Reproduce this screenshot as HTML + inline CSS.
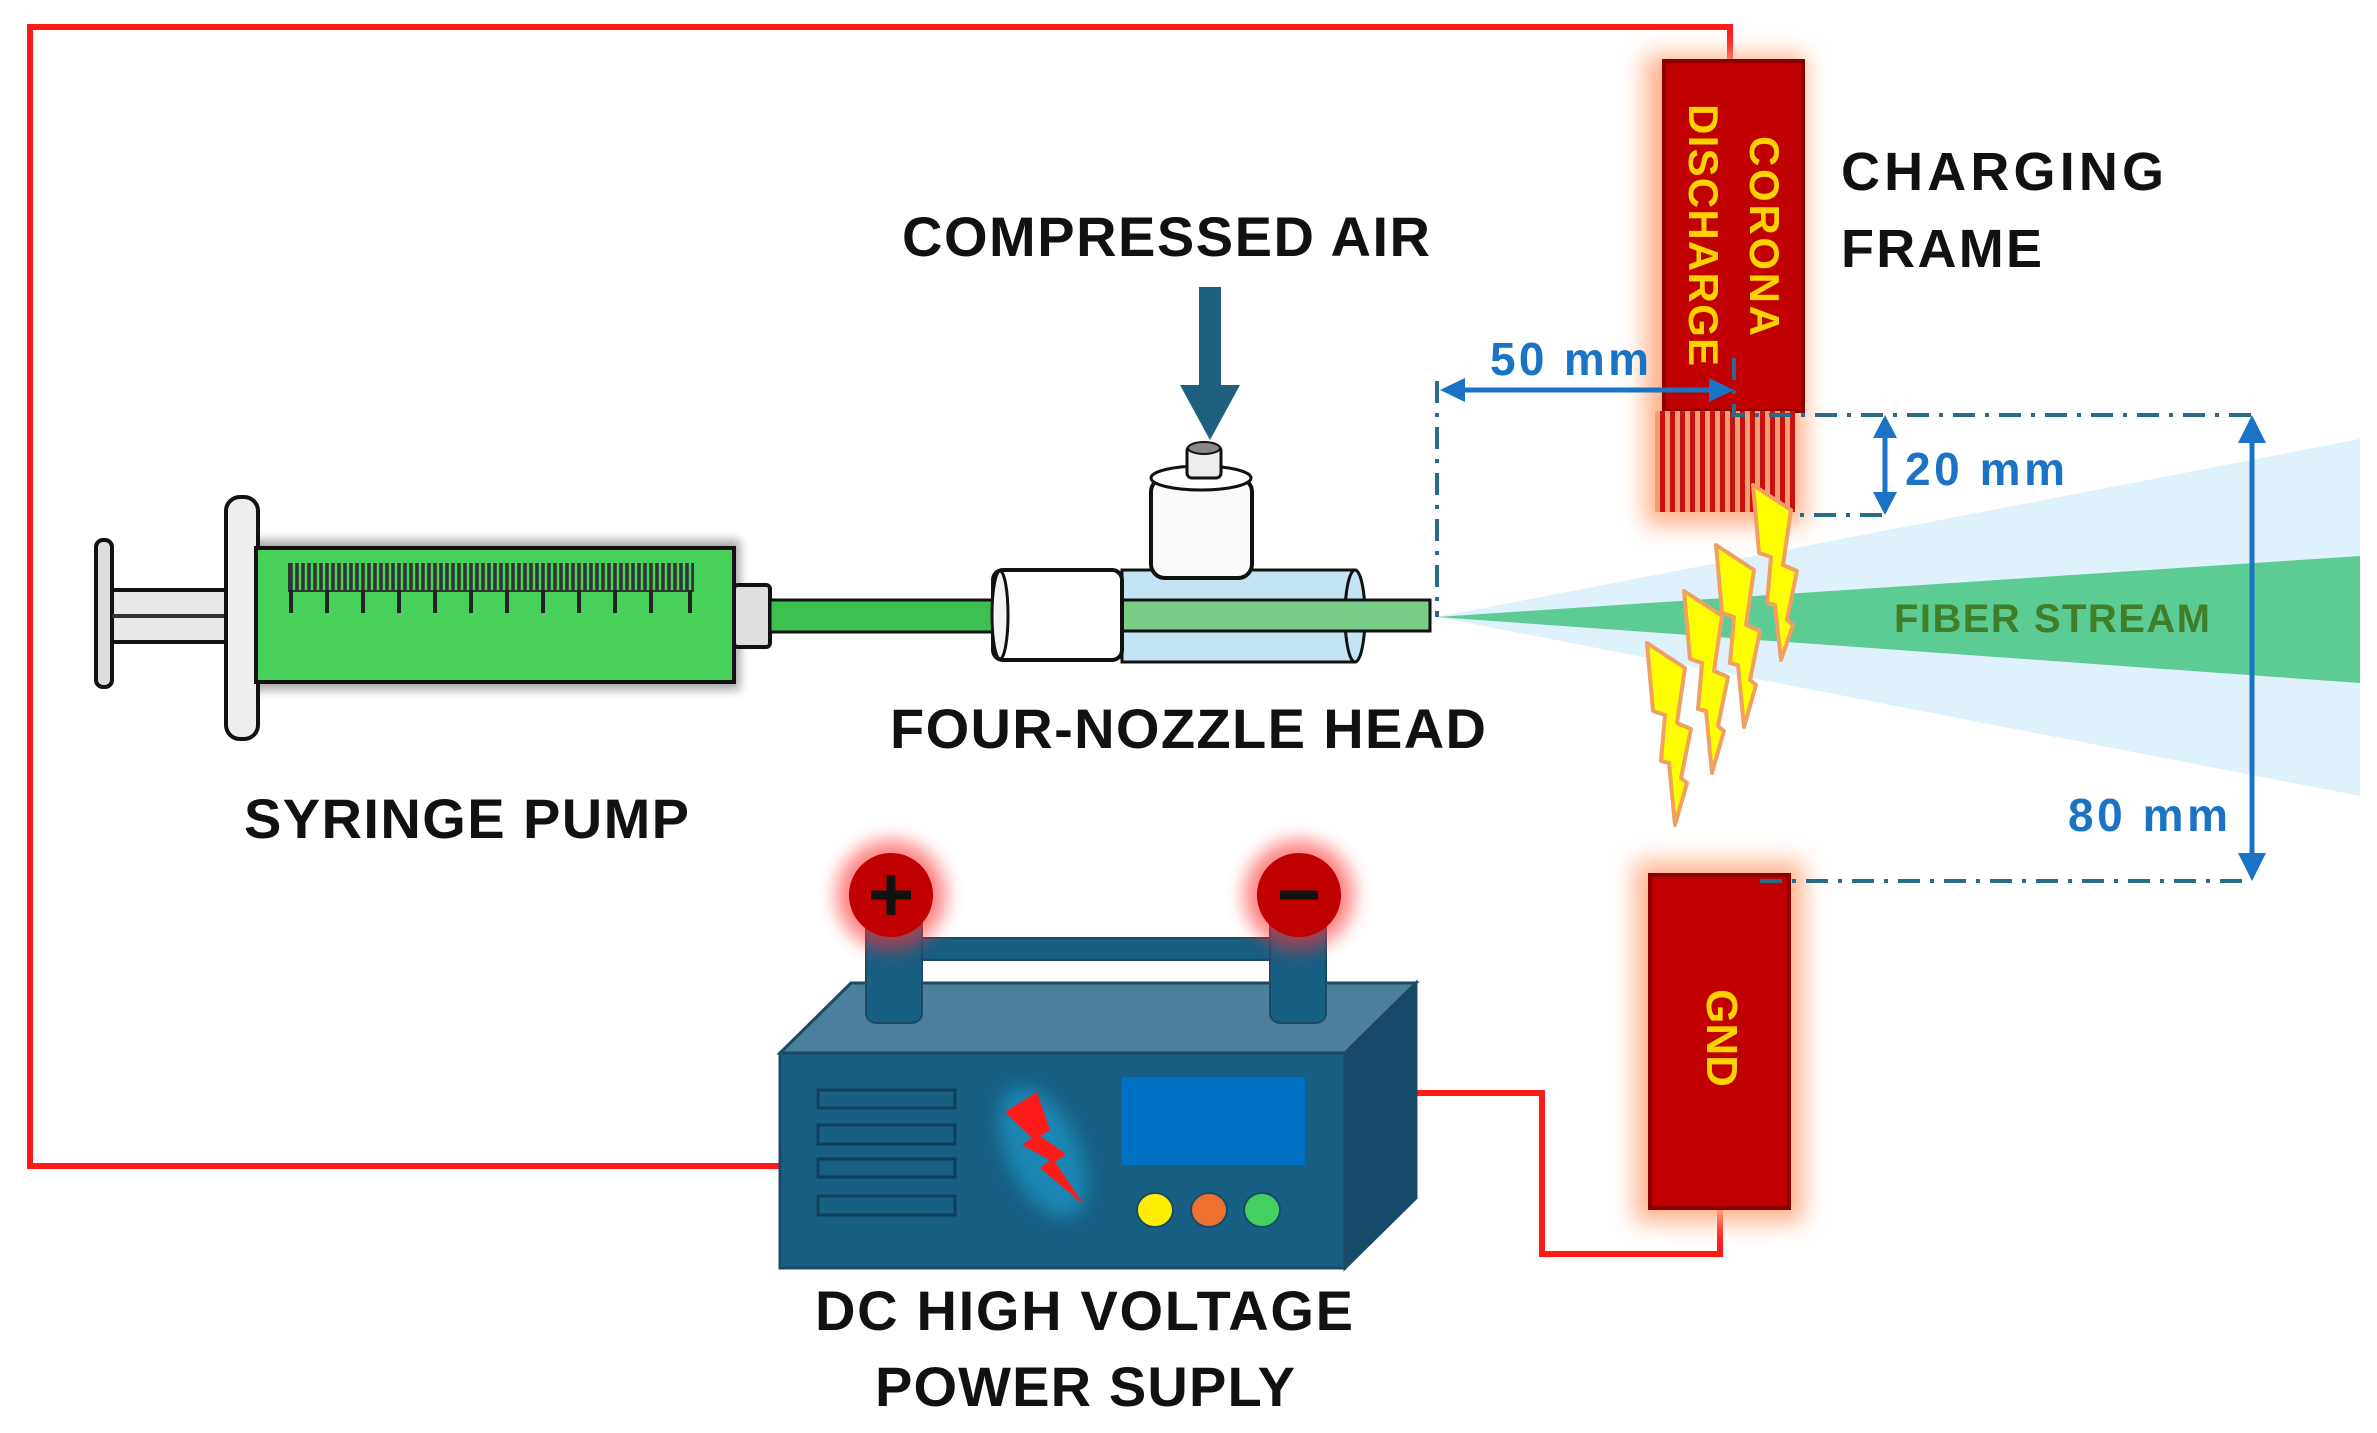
<!DOCTYPE html>
<html><head><meta charset="utf-8"><style>html,body{margin:0;padding:0;background:#fff}svg{display:block}</style></head>
<body>
<svg width="2377" height="1433" viewBox="0 0 2377 1433" xmlns="http://www.w3.org/2000/svg" font-family="Liberation Sans, sans-serif" font-weight="bold">
<defs>
<filter id="glow" x="-40%" y="-20%" width="180%" height="140%"><feGaussianBlur stdDeviation="12"/></filter>
<filter id="sh" x="-10%" y="-30%" width="120%" height="160%"><feGaussianBlur stdDeviation="5"/></filter>
<filter id="rg" x="-60%" y="-60%" width="220%" height="220%"><feGaussianBlur stdDeviation="9"/></filter>
<pattern id="fr" width="10" height="20" patternUnits="userSpaceOnUse"><rect width="10" height="20" fill="#f0a070"/><rect width="5" height="20" fill="#c81010"/></pattern>
</defs>

<polygon points="1437,617 2360,439 2360,796" fill="#dff2fb"/>
<polygon points="1437,617 2360,556 2360,683" fill="#5ccb94"/>
<text x="1894" y="632" font-size="40" fill="#3f7f2a" textLength="316">FIBER STREAM</text>

<path d="M1730,70 V27 H30 V1166 H785" fill="none" stroke="#ff1a1a" stroke-width="6"/>
<path d="M1416,1093 H1542 V1254 H1720 V1208" fill="none" stroke="#ff1a1a" stroke-width="6"/>

<rect x="1645" y="55" width="160" height="470" fill="#ffb088" filter="url(#glow)"/>
<rect x="1664" y="61" width="139" height="350" fill="#c00000" stroke="#8a0000" stroke-width="4"/>
<rect x="1655" y="411" width="140" height="101" fill="url(#fr)"/>
<text transform="translate(1750,236) rotate(90)" font-size="42" fill="#ffd200" text-anchor="middle" textLength="200">CORONA</text>
<text transform="translate(1689,235) rotate(90)" font-size="42" fill="#ffd200" text-anchor="middle" textLength="262">DISCHARGE</text>

<rect x="1635" y="862" width="168" height="360" fill="#ffb088" filter="url(#glow)"/>
<rect x="1650" y="875" width="139" height="333" fill="#c00000" stroke="#8a0000" stroke-width="4"/>
<text transform="translate(1707,1038) rotate(90)" font-size="44" fill="#ffd200" text-anchor="middle">GND</text>

<text x="1841" y="190" font-size="54" fill="#111" textLength="323">CHARGING</text>
<text x="1841" y="267" font-size="54" fill="#111" textLength="201">FRAME</text>

<g stroke="#2a6a8a" stroke-width="4" stroke-dasharray="22,10,4,10" fill="none">
<path d="M1437,381 V617"/>
<path d="M1734,358 V415 H2255"/>
<path d="M1768,515 H1890"/>
<path d="M1760,881 H2252"/>
</g>
<g stroke="#1a73c4" stroke-width="5" fill="#1a73c4">
<line x1="1450" y1="390" x2="1720" y2="390"/>
<polygon points="1440,390 1465,378 1465,402" stroke="none"/>
<polygon points="1734,390 1709,378 1709,402" stroke="none"/>
<line x1="1885" y1="428" x2="1885" y2="502"/>
<polygon points="1885,415 1873,438 1897,438" stroke="none"/>
<polygon points="1885,515 1873,492 1897,492" stroke="none"/>
<line x1="2252" y1="430" x2="2252" y2="866"/>
<polygon points="2252,415 2238,443 2266,443" stroke="none"/>
<polygon points="2252,881 2238,853 2266,853" stroke="none"/>
</g>
<g font-size="46" fill="#1a73c4">
<text x="1490" y="375" textLength="159">50 mm</text>
<text x="1905" y="485" textLength="160">20 mm</text>
<text x="2068" y="831" textLength="160">80 mm</text>
</g>

<g fill="#ffff00" stroke="#f0a060" stroke-width="4" stroke-linejoin="round">
<path transform="translate(1753,485)" d="M0,0 L38,25 L30,80 L44,86 L34,135 L40,140 L28,175 L22,120 L14,118 L18,72 L6,68 Z"/>
<path transform="translate(1716,545)" d="M0,0 L38,25 L30,80 L44,86 L34,135 L40,140 L28,182 L22,120 L14,118 L18,72 L6,68 Z"/>
<path transform="translate(1684,591)" d="M0,0 L38,25 L30,80 L44,86 L34,135 L40,140 L28,182 L22,120 L14,118 L18,72 L6,68 Z"/>
<path transform="translate(1647,643)" d="M0,0 L38,25 L30,80 L44,86 L34,135 L40,140 L28,182 L22,120 L14,118 L18,72 L6,68 Z"/>
</g>

<rect x="250" y="540" width="490" height="150" fill="#000" opacity="0.35" filter="url(#sh)"/>
<rect x="96" y="540" width="16" height="147" rx="7" fill="#ddd" stroke="#111" stroke-width="4"/>
<rect x="112" y="590" width="116" height="52" fill="#e8e8e8" stroke="#111" stroke-width="4"/>
<line x1="112" y1="616" x2="228" y2="616" stroke="#333" stroke-width="4"/>
<rect x="226" y="497" width="32" height="242" rx="14" fill="#eee" stroke="#111" stroke-width="4"/>
<rect x="256" y="548" width="478" height="134" fill="#47d05a" stroke="#111" stroke-width="4"/>
<rect x="288" y="563" width="406" height="29" fill="#333"/>
<g stroke="#47d05a" stroke-width="2.5">
<path d="M294,563V590 M300,563V590 M306,563V590 M312,563V590 M318,563V590 M324,563V590 M330,563V590 M336,563V590 M342,563V590 M348,563V590 M354,563V590 M360,563V590 M366,563V590 M372,563V590 M378,563V590 M384,563V590 M390,563V590 M396,563V590 M402,563V590 M408,563V590 M414,563V590 M420,563V590 M426,563V590 M432,563V590 M438,563V590 M444,563V590 M450,563V590 M456,563V590 M462,563V590 M468,563V590 M474,563V590 M480,563V590 M486,563V590 M492,563V590 M498,563V590 M504,563V590 M510,563V590 M516,563V590 M522,563V590 M528,563V590 M534,563V590 M540,563V590 M546,563V590 M552,563V590 M558,563V590 M564,563V590 M570,563V590 M576,563V590 M582,563V590 M588,563V590 M594,563V590 M600,563V590 M606,563V590 M612,563V590 M618,563V590 M624,563V590 M630,563V590 M636,563V590 M642,563V590 M648,563V590 M654,563V590 M660,563V590 M666,563V590 M672,563V590 M678,563V590 M684,563V590 M690,563V590"/>
</g>
<g stroke="#222" stroke-width="4">
<path d="M291,590V613 M327,590V613 M363,590V613 M399,590V613 M435,590V613 M471,590V613 M507,590V613 M543,590V613 M579,590V613 M615,590V613 M651,590V613 M690,590V613"/>
</g>
<rect x="734" y="585" width="36" height="62" rx="4" fill="#ddd" stroke="#111" stroke-width="4"/>
<rect x="770" y="600" width="228" height="32" fill="#3cc050" stroke="#111" stroke-width="3"/>

<rect x="1122" y="570" width="233" height="92" fill="#c4e4f4" stroke="#111" stroke-width="3"/>
<ellipse cx="1355" cy="616" rx="10" ry="46" fill="#c4e4f4" stroke="#111" stroke-width="3"/>
<rect x="1122" y="600" width="308" height="31" fill="#79cc86" stroke="#111" stroke-width="3"/>
<rect x="993" y="570" width="129" height="90" rx="10" fill="#fff" stroke="#111" stroke-width="4"/>
<ellipse cx="1000" cy="615" rx="8" ry="44" fill="#f4f4f4" stroke="#111" stroke-width="3"/>
<rect x="1151" y="478" width="101" height="100" rx="14" fill="#fafafa" stroke="#111" stroke-width="4"/>
<ellipse cx="1201" cy="478" rx="50" ry="12" fill="#fff" stroke="#111" stroke-width="3"/>
<rect x="1187" y="446" width="34" height="32" rx="5" fill="#eee" stroke="#111" stroke-width="3"/>
<ellipse cx="1204" cy="448" rx="16" ry="6" fill="#888" stroke="#111" stroke-width="2"/>

<rect x="1199" y="287" width="22" height="100" fill="#1f5f80"/>
<polygon points="1180,385 1240,385 1210,440" fill="#1f5f80"/>

<g font-size="56" fill="#111">
<text x="902" y="256" textLength="528">COMPRESSED AIR</text>
<text x="890" y="748" textLength="596">FOUR-NOZZLE HEAD</text>
<text x="244" y="838" textLength="445">SYRINGE PUMP</text>
<text x="815" y="1330" textLength="538">DC HIGH VOLTAGE</text>
<text x="875" y="1406" textLength="420">POWER SUPLY</text>
</g>

<polygon points="780,1053 851,983 1416,983 1345,1053" fill="#4a809c" stroke="#1c4a66" stroke-width="3"/>
<polygon points="1345,1053 1416,983 1416,1198 1345,1268" fill="#154a68" stroke="#1c4a66" stroke-width="3"/>
<rect x="780" y="1053" width="565" height="215" fill="#185f84" stroke="#1c4a66" stroke-width="3"/>
<g fill="none" stroke="#0f3f5c" stroke-width="3">
<rect x="818" y="1090" width="137" height="18"/><rect x="818" y="1125" width="137" height="19"/>
<rect x="818" y="1159" width="137" height="18"/><rect x="818" y="1196" width="137" height="19"/>
</g>
<ellipse cx="1043" cy="1152" rx="36" ry="70" fill="#1aa6d8" opacity="0.55" filter="url(#rg)" transform="rotate(-25 1043 1152)"/>
<polygon points="1005,1112 1037,1092 1050,1130 1040,1136 1066,1154 1055,1162 1084,1205 1040,1168 1050,1160 1022,1145 1032,1138" fill="#ff1a1a"/>
<rect x="1122" y="1077" width="183" height="88" fill="#0070c4"/>
<ellipse cx="1155" cy="1210" rx="18" ry="17" fill="#ffee00" stroke="#184a66" stroke-width="2"/>
<ellipse cx="1209" cy="1210" rx="18" ry="17" fill="#ec7030" stroke="#184a66" stroke-width="2"/>
<ellipse cx="1262" cy="1210" rx="18" ry="17" fill="#44d060" stroke="#184a66" stroke-width="2"/>
<rect x="917" y="938" width="358" height="22" fill="#185f84" stroke="#1c4a66" stroke-width="2"/>
<rect x="866" y="900" width="56" height="123" rx="10" fill="#185f84" stroke="#1c4a66" stroke-width="2"/>
<rect x="1270" y="900" width="56" height="123" rx="10" fill="#185f84" stroke="#1c4a66" stroke-width="2"/>
<circle cx="891" cy="895" r="55" fill="#ff3030" opacity="0.6" filter="url(#rg)"/>
<circle cx="1299" cy="895" r="55" fill="#ff3030" opacity="0.6" filter="url(#rg)"/>
<circle cx="891" cy="895" r="42" fill="#c00000"/>
<circle cx="1299" cy="895" r="42" fill="#c00000"/>
<path d="M891,875 V915 M871,895 H911" stroke="#111" stroke-width="9"/>
<path d="M1280,895 H1318" stroke="#111" stroke-width="9"/>
</svg>
</body></html>
